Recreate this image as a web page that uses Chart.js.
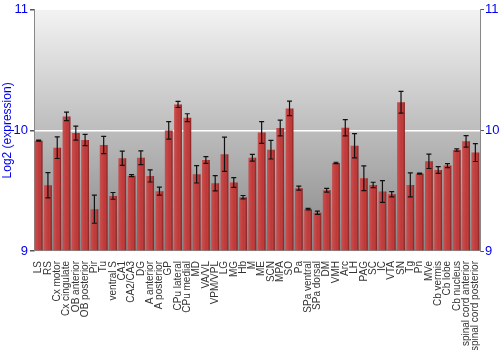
<!DOCTYPE html>
<html>
<head>
<meta charset="utf-8">
<script src="https://cdn.jsdelivr.net/npm/chart.js@4"></script>
<style>
  html, body { margin: 0; padding: 0; background: #fff; }
  #wrap { width: 500px; height: 350px; position: relative; }
</style>
</head>
<body>
<div id="wrap"><canvas id="myChart"></canvas></div>
<script>
var regions = ['LS', 'RS', 'Cx motor', 'Cx cingulate', 'OB anterior', 'OB posterior', 'Pir', 'Tu',
    'ventral S', 'CA1', 'CA2/CA3', 'DG', 'A anterior', 'A posterior', 'GP', 'CPu lateral', 'CPu medial',
    'MD', 'VA/VL', 'VPM/VPL', 'LG', 'MG', 'Hb', 'M', 'ME', 'SCN', 'MPA', 'SO', 'Pa', 'SPa ventral',
    'SPa dorsal', 'DM', 'VMH', 'Arc', 'LH', 'PAG', 'SC', 'IC', 'VTA', 'SN', 'Tg', 'Pn', 'MVe',
    'Cb vermis', 'Cb lobe', 'Cb nucleus', 'spinal cord anterior', 'spinal cord posterior'];

var expression = [9.915, 9.545, 9.857, 10.116, 9.978, 9.92, 9.347, 9.879,
    9.457, 9.769, 9.625, 9.774, 9.622, 9.496, 10.0, 10.215, 10.105,
    9.636, 9.754, 9.562, 9.802, 9.568, 9.446, 9.774, 9.983, 9.84, 10.02, 10.182, 9.521, 9.347,
    9.317, 9.504, 9.73, 10.022, 9.873, 9.603, 9.548, 9.493, 9.471, 10.234, 9.548, 9.642, 9.744,
    9.672, 9.708, 9.837, 9.909, 9.816];

var stderr = [0.005, 0.105, 0.09, 0.035, 0.058, 0.047, 0.117, 0.072,
    0.028, 0.059, 0.008, 0.057, 0.05, 0.033, 0.072, 0.025, 0.033,
    0.072, 0.028, 0.063, 0.142, 0.041, 0.014, 0.028, 0.09, 0.077, 0.066, 0.06, 0.017, 0.006,
    0.014, 0.015, 0.006, 0.067, 0.1, 0.103, 0.022, 0.09, 0.022, 0.09, 0.1, 0.004, 0.06,
    0.028, 0.017, 0.01, 0.047, 0.074];

var yTicks = [9, 10, 11];

// grey gradient behind the plot
var bgPlugin = {
    id: 'bg',
    beforeDraw: function (chart) {
        var a = chart.chartArea, c = chart.ctx;
        var g = c.createLinearGradient(0, a.top, 0, a.bottom);
        g.addColorStop(0, '#f3f3f3');
        g.addColorStop(1, '#868686');
        c.save();
        c.fillStyle = g;
        c.fillRect(a.left, a.top, a.right - a.left, a.bottom - a.top);
        c.restore();
    }
};

// shading on the bars + error bars
var errPlugin = {
    id: 'err',
    afterDatasetsDraw: function (chart) {
        var c = chart.ctx, y = chart.scales.y, a = chart.chartArea;
        var meta = chart.getDatasetMeta(0);
        c.save();
        meta.data.forEach(function (bar, i) {
            var w = bar.width, x0 = bar.x - w / 2;
            var bottom = Math.min(bar.base, a.bottom);
            var g = c.createLinearGradient(x0, 0, x0 + w, 0);
            g.addColorStop(0, 'rgba(255,255,255,0.12)');
            g.addColorStop(0.6, 'rgba(255,255,255,0.0)');
            g.addColorStop(0.85, 'rgba(0,0,0,0.15)');
            g.addColorStop(1, 'rgba(0,0,0,0.35)');
            c.fillStyle = g;
            c.fillRect(x0, bar.y, w, bottom - bar.y);

            var hi = y.getPixelForValue(expression[i] + stderr[i]);
            var lo = y.getPixelForValue(expression[i] - stderr[i]);
            c.strokeStyle = '#111';
            c.lineWidth = 1.2;
            c.beginPath();
            c.moveTo(bar.x, hi); c.lineTo(bar.x, lo);
            c.moveTo(bar.x - 2.5, hi); c.lineTo(bar.x + 2.5, hi);
            c.moveTo(bar.x - 2.5, lo); c.lineTo(bar.x + 2.5, lo);
            c.stroke();
        });
        c.restore();
    }
};

var ctx = document.getElementById('myChart');

var chart = new Chart(ctx, {
    type: 'bar',
    data: {
        labels: regions,
        datasets: [{
            data: expression,
            base: 9,
            backgroundColor: '#c03838',
            borderWidth: 0,
            barPercentage: 0.88,
            categoryPercentage: 0.95
        }]
    },
    options: {
        responsive: true,
        maintainAspectRatio: false,
        animation: false,
        layout: { padding: { top: 9, left: 0, right: 0, bottom: 0 } },
        plugins: { legend: { display: false }, tooltip: { enabled: false } },
        scales: {
            x: {
                grid: { display: false },
                border: { display: false },
                ticks: {
                    autoSkip: false, maxRotation: 90, minRotation: 90, padding: 2,
                    color: '#333', font: { family: 'Liberation Sans, Arial', size: 10 }
                },
                afterFit: function (s) { s.height = 99; }
            },
            y: {
                min: 9, max: 11,
                afterBuildTicks: function (s) { s.ticks = yTicks.map(function (v) { return { value: v }; }); },
                afterFit: function (s) { s.width = 34; },
                grid: {
                    color: function (c) { return c.tick && c.tick.value === 10 ? '#ffffff' : 'rgba(0,0,0,0)'; },
                    tickColor: '#555', tickLength: 4, lineWidth: 1.5
                },
                border: { display: true, color: '#888' },
                ticks: { color: '#0000ee', padding: 2, font: { family: 'Liberation Sans, Arial', size: 13 } },
                title: {
                    display: true, text: 'Log2 (expression)', color: '#0000ee', padding: 0,
                    font: { family: 'Liberation Sans, Arial', size: 12 }
                }
            },
            y2: {
                position: 'right', min: 9, max: 11,
                afterBuildTicks: function (s) { s.ticks = yTicks.map(function (v) { return { value: v }; }); },
                afterFit: function (s) { s.width = 20; },
                grid: { drawOnChartArea: false, tickColor: '#555', tickLength: 4 },
                border: { display: true, color: '#888' },
                ticks: { color: '#0000ee', padding: 1, font: { family: 'Liberation Sans, Arial', size: 13 } }
            }
        }
    },
    plugins: [bgPlugin, errPlugin]
});
</script>
</body>
</html>
